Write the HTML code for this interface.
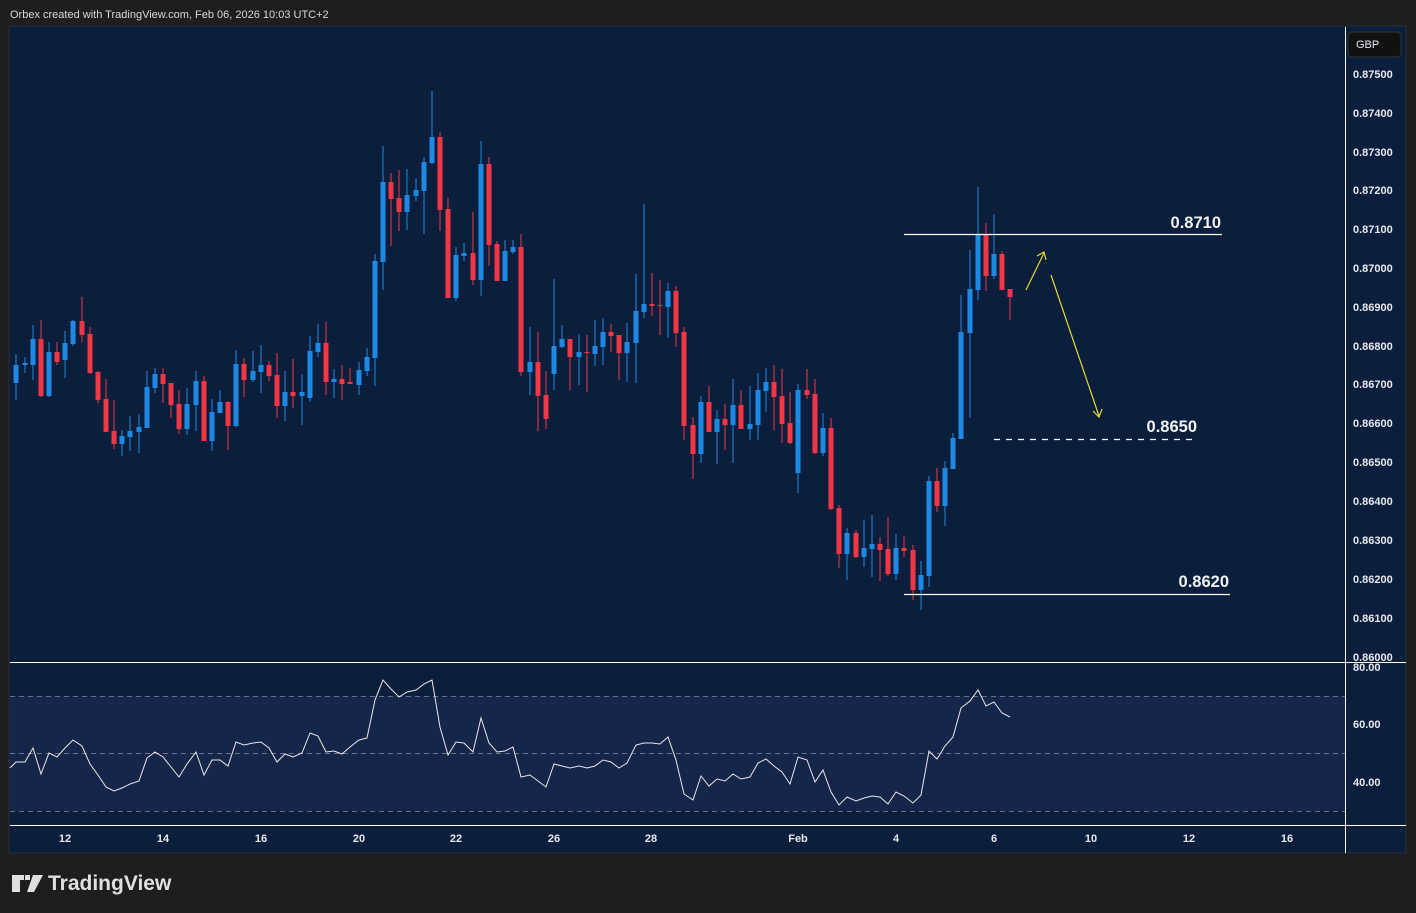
<!DOCTYPE html>
<html><head><meta charset="utf-8"><style>
html,body{margin:0;padding:0;background:#1e1e1e;width:1416px;height:913px;overflow:hidden;font-family:"Liberation Sans",sans-serif}
svg{position:absolute;left:0;top:0}
</style></head><body>
<svg id="s" width="1416" height="913" viewBox="0 0 1416 913" xmlns="http://www.w3.org/2000/svg" font-family="Liberation Sans, sans-serif">
<rect width="1416" height="913" fill="#1e1e1e"/>
<text x="10" y="18" fill="#d8d8d8" font-size="11">Orbex created with TradingView.com, Feb 06, 2026 10:03 UTC+2</text>
<rect x="9" y="26" width="1397" height="827" fill="#0b1f3c" stroke="#2a2e39" stroke-width="1"/>
<rect x="10" y="696" width="1335" height="115" fill="#16264b"/>
<g stroke="#8a93a6" stroke-width="1" stroke-dasharray="5,4" opacity="0.7">
<line x1="10" y1="696.5" x2="1345" y2="696.5"/><line x1="10" y1="753.5" x2="1345" y2="753.5"/><line x1="10" y1="811.5" x2="1345" y2="811.5"/>
</g>
<line x1="1345.5" y1="27" x2="1345.5" y2="853" stroke="#fff" stroke-width="1"/>
<line x1="10" y1="662.5" x2="1406" y2="662.5" stroke="#fff" stroke-width="1"/>
<line x1="10" y1="825.5" x2="1406" y2="825.5" stroke="#fff" stroke-width="1"/>
<g id="c"></g>
<polyline id="rsi" fill="none" stroke="#e8e8e8" stroke-width="1"/>
<g fill="#e6e8ee" font-size="11" font-weight="bold">
<text x="1353" y="78">0.87500</text><text x="1353" y="117">0.87400</text><text x="1353" y="156">0.87300</text><text x="1353" y="194">0.87200</text><text x="1353" y="233">0.87100</text><text x="1353" y="272">0.87000</text><text x="1353" y="311">0.86900</text><text x="1353" y="350">0.86800</text><text x="1353" y="388">0.86700</text><text x="1353" y="427">0.86600</text><text x="1353" y="466">0.86500</text><text x="1353" y="505">0.86400</text><text x="1353" y="544">0.86300</text><text x="1353" y="583">0.86200</text><text x="1353" y="622">0.86100</text><text x="1353" y="661">0.86000</text>
<text x="1353" y="671">80.00</text><text x="1353" y="728">60.00</text><text x="1353" y="786">40.00</text>
</g>
<rect x="1348" y="32" width="53" height="25" rx="4" fill="#111" stroke="#333"/>
<text x="1356" y="48" fill="#e6e8ee" font-size="11">GBP</text>
<g fill="#e6e8ee" font-size="11" font-weight="bold" text-anchor="middle">
<text x="65" y="842">12</text><text x="163" y="842">14</text><text x="261" y="842">16</text><text x="359" y="842">20</text><text x="456" y="842">22</text><text x="554" y="842">26</text><text x="651" y="842">28</text><text x="798" y="842">Feb</text><text x="896" y="842">4</text><text x="994" y="842">6</text><text x="1091" y="842">10</text><text x="1189" y="842">12</text><text x="1287" y="842">16</text>
</g>
<line x1="904" y1="234.5" x2="1222" y2="234.5" stroke="#fff" stroke-width="1.3"/>
<line x1="994" y1="439.5" x2="1197" y2="439.5" stroke="#fff" stroke-width="1.3" stroke-dasharray="6,6"/>
<line x1="904" y1="594.5" x2="1230" y2="594.5" stroke="#fff" stroke-width="1.3"/>
<g fill="#f2f3f5" font-size="16.5" font-weight="bold" text-anchor="end">
<text x="1221" y="228">0.8710</text><text x="1197" y="432">0.8650</text><text x="1229" y="587">0.8620</text>
</g>
<g stroke="#e5d92a" stroke-width="1.2" fill="none">
<line x1="1026" y1="290" x2="1044" y2="253"/><polyline points="1037,256 1044,252 1046,260"/>
<line x1="1051" y1="275" x2="1099" y2="416"/><polyline points="1093,411 1099,417 1102,409"/>
</g>
<g fill="#e0e0e0">
<path d="M12 875h12v5h-4v12h-8z"/><path d="M25 875h5v5h-5z"/><path d="M33 875h10l-9 17h-7z"/>
</g>
<text x="48" y="890" fill="#e0e0e0" font-size="21" font-weight="bold">TradingView</text>
</svg>
<script>
var D=[[16,365,383,354,400,1],[25,363,365,357,373,1],[33,339,365,325,380,1],[41,339,396,320,397,0],[49,352,396,342,397,1],[57,352,362,342,365,0],[65,343,360,331,378,1],[73,321,344,320,346,1],[82,321,335,297,342,0],[90,334,373,327,374,0],[98,372,400,371,403,0],[106,399,432,379,432,0],[114,431,444,400,449,0],[122,436,444,430,456,1],[130,431,437,416,451,1],[139,427,432,414,453,1],[147,387,428,371,428,1],[155,374,388,368,393,1],[163,374,384,368,403,0],[171,383,405,383,418,0],[179,404,429,390,434,0],[187,404,429,388,435,1],[196,381,405,371,431,1],[204,381,441,376,441,0],[212,412,441,399,451,1],[220,402,413,390,413,1],[228,402,426,401,450,0],[236,364,426,350,427,1],[244,364,380,358,397,0],[253,371,380,351,382,1],[261,365,372,345,393,1],[269,365,376,361,381,0],[277,375,406,353,418,0],[285,392,406,371,421,1],[293,392,396,359,408,0],[302,392,396,374,425,1],[310,351,398,336,402,1],[318,343,352,324,357,1],[326,343,382,322,395,0],[334,379,382,369,398,1],[342,379,384,365,400,0],[350,382,384,368,384,0],[359,370,385,362,395,1],[367,357,371,348,376,1],[375,261,358,254,386,1],[383,182,262,146,290,1],[391,182,199,173,246,0],[399,198,212,170,231,0],[407,195,212,169,230,1],[416,190,196,178,201,1],[424,162,191,157,234,1],[432,137,163,91,164,1],[440,137,210,132,231,0],[448,209,298,198,298,0],[456,255,298,247,301,1],[464,253,256,243,261,1],[473,253,280,212,285,0],[481,164,280,141,296,1],[489,164,245,157,266,0],[497,244,281,241,281,0],[505,251,281,240,281,1],[513,247,252,240,254,1],[521,247,372,234,376,0],[530,362,372,327,395,1],[538,362,396,332,431,0],[546,395,419,371,429,0],[554,346,374,279,390,1],[562,339,347,325,348,1],[570,339,357,339,390,0],[579,352,357,334,385,1],[587,352,353,335,392,0],[595,346,354,320,366,1],[603,332,347,318,365,1],[611,332,336,324,352,0],[619,335,353,335,380,0],[627,342,353,323,382,1],[636,311,343,274,383,1],[644,304,312,204,318,1],[652,304,306,273,316,0],[660,305,306,280,335,0],[668,291,307,283,338,1],[676,291,333,286,347,0],[684,332,426,327,440,0],[693,425,454,417,479,0],[701,402,454,396,463,1],[709,402,432,386,432,0],[717,419,432,410,464,1],[725,419,425,404,450,0],[733,405,425,379,463,1],[741,405,429,390,429,0],[750,424,429,386,440,1],[758,390,425,373,440,1],[766,382,391,368,412,1],[774,382,397,365,430,0],[782,396,424,369,443,0],[790,423,443,392,444,0],[798,390,473,384,493,1],[807,390,395,369,399,0],[815,394,453,379,454,0],[823,428,453,413,456,1],[831,428,509,418,510,0],[839,508,554,505,568,0],[847,533,554,528,580,1],[856,533,557,530,558,0],[864,548,557,520,567,1],[872,544,549,515,577,1],[880,544,550,537,581,0],[888,549,574,517,576,0],[896,548,574,534,580,1],[904,548,551,536,557,0],[913,550,590,545,600,0],[921,575,590,561,610,1],[929,481,576,476,587,1],[937,481,506,468,512,0],[945,468,506,461,526,1],[953,438,469,433,469,1],[961,332,439,295,439,1],[970,289,333,250,418,1],[978,235,290,187,300,1],[986,235,276,223,291,0],[994,254,276,214,279,1],[1002,254,290,251,290,0],[1010,289,297,289,320,0]];
var h='';D.forEach(function(d){var c=d[5]?'#1e88e5':'#f23645';h+='<rect x="'+(d[0]-0.5)+'" y="'+d[3]+'" width="1" height="'+(d[4]-d[3])+'" fill="'+c+'"/><rect x="'+(d[0]-2.5)+'" y="'+d[1]+'" width="5" height="'+Math.max(1,d[2]-d[1])+'" fill="'+c+'"/>';});
document.getElementById('c').innerHTML=h;
var R=[[10,768],[16,762],[25,762],[33,748],[41,774],[49,753],[57,757],[65,748],[73,740],[82,746],[90,764],[98,775],[106,787],[114,791],[122,788],[130,784],[139,781],[147,758],[155,752],[163,757],[171,767],[179,777],[187,764],[196,752],[204,775],[212,760],[220,760],[228,766],[236,742],[244,745],[253,743],[261,742],[269,748],[277,762],[285,754],[293,757],[302,753],[310,733],[318,736],[326,752],[334,751],[342,754],[350,747],[359,740],[367,738],[375,700],[383,680],[391,689],[399,697],[407,692],[416,690],[424,684],[432,680],[440,727],[448,755],[456,742],[464,743],[473,752],[481,718],[489,743],[497,752],[505,751],[513,747],[521,777],[530,775],[538,781],[546,787],[554,764],[562,766],[570,768],[579,766],[587,768],[595,766],[603,760],[611,762],[619,768],[627,763],[636,745],[644,743],[652,743],[660,744],[668,737],[676,760],[684,794],[693,800],[701,776],[709,786],[717,779],[725,781],[733,774],[741,779],[750,777],[758,763],[766,759],[774,766],[782,772],[790,784],[798,757],[807,760],[815,782],[823,770],[831,792],[839,805],[847,797],[856,801],[864,798],[872,796],[880,797],[888,804],[896,792],[904,796],[913,803],[921,795],[929,751],[937,759],[945,746],[953,737],[961,708],[970,701],[978,690],[986,706],[994,702],[1002,713],[1010,717]];
document.getElementById('rsi').setAttribute('points',R.map(function(p){return p.join(',')}).join(' '));
</script>
</body></html>
